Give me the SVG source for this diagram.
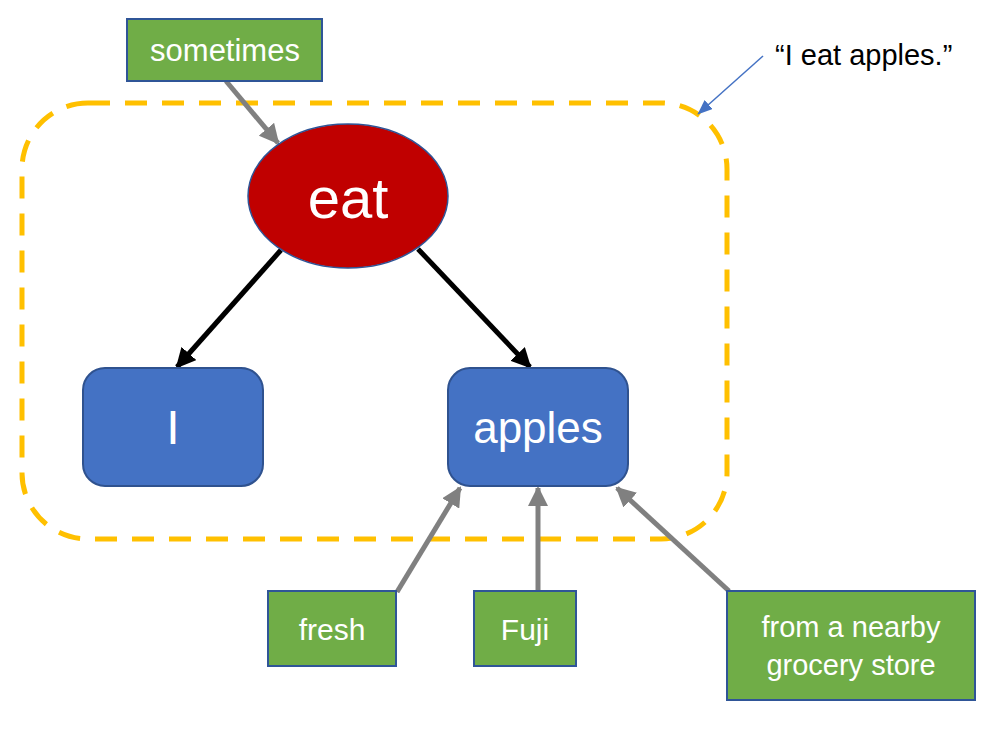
<svg xmlns="http://www.w3.org/2000/svg" width="999" height="742" viewBox="0 0 999 742">
<style>
.lbl{font-family:"Liberation Sans",Arial,sans-serif;fill:#fff;text-anchor:middle}
.green{fill:#70AD47;stroke:#2F5597;stroke-width:2}
.blue{fill:#4472C4;stroke:#2F528F;stroke-width:2}
.gray{stroke:#808080;stroke-width:5;fill:none}
.blk{stroke:#000;stroke-width:5;fill:none}
</style>
<defs>
<marker id="ag" markerWidth="4" markerHeight="4" refX="3.6" refY="2" orient="auto" markerUnits="strokeWidth"><path d="M0,0 L4,2 L0,4 Z" fill="#808080"/></marker>
<marker id="ab" markerWidth="4" markerHeight="4" refX="3.6" refY="2" orient="auto" markerUnits="strokeWidth"><path d="M0,0 L4,2 L0,4 Z" fill="#000"/></marker>
<marker id="al" markerWidth="10" markerHeight="8" refX="9.5" refY="4" orient="auto" markerUnits="strokeWidth"><path d="M0,0 L10,4 L0,8 Z" fill="#4472C4"/></marker>
</defs>
<rect id="scope" x="22" y="103" width="705" height="436" rx="66" fill="none" stroke="#FFC000" stroke-width="5" stroke-dasharray="22 15"/>
<g id="connectors">
<line class="gray" x1="226" y1="81" x2="278" y2="143" marker-end="url(#ag)"/>
<line class="blk" x1="281" y1="250" x2="177" y2="367" marker-end="url(#ab)"/>
<line class="blk" x1="418" y1="249" x2="530" y2="367" marker-end="url(#ab)"/>
<line class="gray" x1="397" y1="592" x2="460" y2="488" marker-end="url(#ag)"/>
<line class="gray" x1="538" y1="591" x2="538" y2="488" marker-end="url(#ag)"/>
<line class="gray" x1="729" y1="591" x2="617" y2="488" marker-end="url(#ag)"/>
<line x1="763" y1="56" x2="698" y2="114" stroke="#4472C4" stroke-width="1.5" marker-end="url(#al)"/>
</g>
<g id="sometimes"><rect class="green" x="127" y="19" width="195" height="62"/><text class="lbl" x="225" y="61" font-size="31">sometimes</text></g>
<g id="eat"><ellipse cx="348" cy="196" rx="100" ry="72" fill="#C00000" stroke="#2F5597" stroke-width="1.5"/><text class="lbl" x="348" y="218" font-size="58">eat</text></g>
<g id="I"><rect class="blue" x="83" y="368" width="180" height="118" rx="22"/><text class="lbl" x="173" y="444" font-size="48">I</text></g>
<g id="apples"><rect class="blue" x="448" y="368" width="180" height="118" rx="22"/><text class="lbl" x="538" y="443" font-size="44">apples</text></g>
<g id="fresh"><rect class="green" x="268" y="591" width="128" height="75"/><text class="lbl" x="332" y="640" font-size="30">fresh</text></g>
<g id="Fuji"><rect class="green" x="474" y="591" width="102" height="75"/><text class="lbl" x="525" y="640" font-size="30">Fuji</text></g>
<g id="store"><rect class="green" x="727" y="591" width="248" height="109"/><text class="lbl" x="851" y="637" font-size="29">from a nearby</text><text class="lbl" x="851" y="675" font-size="29">grocery store</text></g>
<g id="quote"><text x="775" y="65" font-family="'Liberation Sans',Arial,sans-serif" font-size="29" fill="#000">“I eat apples.”</text></g>
</svg>
